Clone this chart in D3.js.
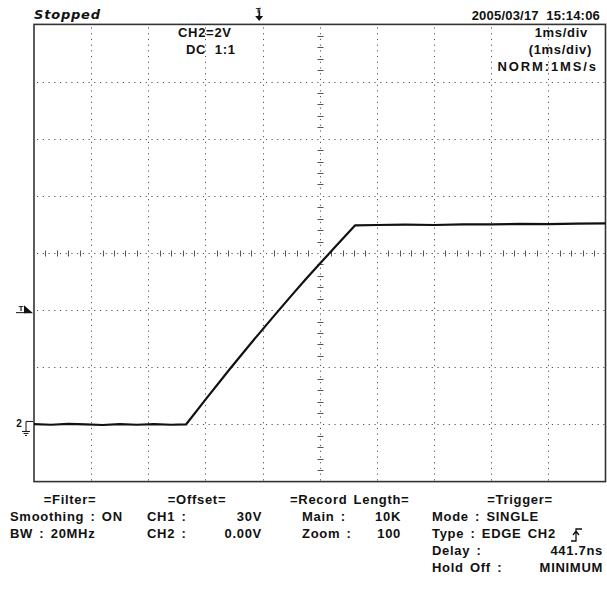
<!DOCTYPE html>
<html>
<head>
  <meta charset="utf-8">
  <style>
    body { margin: 0; background: #fff; }
    svg text { font-family: "Liberation Sans", Arial, sans-serif; font-weight: bold; font-size: 13px;
               letter-spacing: 0.7px; word-spacing: 2px; white-space: pre; fill: #111; }
    .grid { stroke: #555; stroke-width: 1; stroke-dasharray: 1.2 4.52; fill: none; }
    .tick { stroke: #555; stroke-width: 1; }
    .trace { fill: none; stroke: #111; stroke-width: 2.2; stroke-linejoin: round; }
  </style>
  <script src="https://d3js.org/d3.v7.min.js"></script>
</head>
<body>
  <div id="scope"></div>
  <script>
    // time in ms (1 ms/div, trigger at centre), CH2 in volts (2 V/div)
    var traceTime = [-5, -4.7, -4.4, -4.1, -3.8, -3.5, -3.2, -2.9, -2.6, -2.34,
                     -2.0, -1.57, -1.2, -0.8, -0.5, -0.25, 0, 0.3, 0.62,
                     1.0, 1.5, 2.0, 2.5, 3.0, 3.5, 4.0, 4.5, 5.0];
    var traceVolts = [0.01, -0.01, 0.02, 0.0, -0.02, 0.01, -0.01, 0.01, -0.01, 0.0,
                      0.87, 1.95, 2.85, 3.8, 4.5, 5.07, 5.62, 6.28, 6.97,
                      6.98, 6.99, 6.98, 7.0, 7.0, 7.02, 7.01, 7.03, 7.04];
    var timeDivs = [-5, -4, -3, -2, -1, 0, 1, 2, 3, 4, 5];
    var voltDivs = [-2, 0, 2, 4, 6, 8, 10, 12, 14];
    var centreTime = 0, centreVolt = 6;
    var triggerTime = -1.06, triggerVolt = 4, groundVolt = 0;

    var infoTop = ["CH2=2V", "DC  1:1"];
    var infoRight = ["1ms/div", "(1ms/div)", "NORM:1MS/s"];
    var colFilter = ["=Filter=", "Smoothing : ON", "BW : 20MHz"];
    var colOffset = ["=Offset=", "CH1 :", "CH2 :"], offsetVals = ["30V", "0.00V"];
    var colRecord = ["=Record Length=", "Main :", "Zoom :"], recordVals = ["10K", "100"];
    var colTrigger = ["=Trigger=", "Mode : SINGLE", "Type : EDGE CH2", "Delay :", "Hold Off :"];
    var triggerVals = ["441.7ns", "MINIMUM"];

    var W = 607, H = 590;
    var svg = d3.select("#scope").append("svg").attr("width", W).attr("height", H);

    var x = d3.scaleLinear().domain([-5, 5]).range([34, 605.5]);
    var y = d3.scaleLinear().domain([-2, 14]).range([481.6, 24.4]);

    // dotted grid
    svg.selectAll(".vgrid").data(timeDivs.slice(1, -1)).enter().append("line")
      .attr("class", "grid")
      .attr("x1", function (d) { return Math.round(x(d)) + 0.5; })
      .attr("x2", function (d) { return Math.round(x(d)) + 0.5; })
      .attr("y1", y(14) + 3).attr("y2", y(-2));
    svg.selectAll(".hgrid").data(voltDivs.slice(1, -1)).enter().append("line")
      .attr("class", "grid")
      .attr("y1", function (d) { return Math.round(y(d)) + 0.5; })
      .attr("y2", function (d) { return Math.round(y(d)) + 0.5; })
      .attr("x1", x(-5) + 3).attr("x2", x(5));

    // minor ticks on centre axes (5 per division)
    var minorT = d3.range(-25, 26).map(function (i) { return i / 5; }).filter(function (d) { return d % 1 !== 0; });
    var minorV = d3.range(-40, 41).map(function (i) { return i * 0.4; }).filter(function (d) { return d > -2 && d < 14 && Math.abs(d % 2) > 0.01 && Math.abs(d % 2) < 1.99; });
    var cy = Math.round(y(centreVolt)) + 0.5, cx = Math.round(x(centreTime)) + 0.5;
    svg.selectAll(".tx").data(minorT).enter().append("line").attr("class", "tick")
      .attr("x1", function (d) { return Math.round(x(d)) + 0.5; })
      .attr("x2", function (d) { return Math.round(x(d)) + 0.5; })
      .attr("y1", cy - 3).attr("y2", cy + 3);
    svg.selectAll(".ty").data(minorV).enter().append("line").attr("class", "tick")
      .attr("y1", function (d) { return Math.round(y(d)) + 0.5; })
      .attr("y2", function (d) { return Math.round(y(d)) + 0.5; })
      .attr("x1", cx - 3).attr("x2", cx + 3);

    // frame
    svg.append("rect")
      .attr("x", x(-5)).attr("y", y(14))
      .attr("width", x(5) - x(-5)).attr("height", y(-2) - y(14))
      .attr("fill", "none").attr("stroke", "#333").attr("stroke-width", 1.6);

    // trace
    var pts = traceTime.map(function (t, i) { return [t, traceVolts[i]]; });
    svg.append("path").datum(pts).attr("class", "trace")
      .attr("d", d3.line().x(function (d) { return x(d[0]); }).y(function (d) { return y(d[1]); }));

    // header
    svg.append("text").attr("x", 34).attr("y", 19)
      .style("font-family", "DejaVu Sans").style("font-style", "italic").style("font-size", "13px")
      .style("letter-spacing", "0.8px")
      .text("Stopped");
    svg.append("text").attr("x", 600).attr("y", 20).attr("text-anchor", "end")
      .style("letter-spacing", "0.2px").style("word-spacing", "0px")
      .text("2005/03/17  15:14:06");
    svg.selectAll(".it").data(infoTop).enter().append("text")
      .attr("x", function (d, i) { return [178, 186][i]; })
      .attr("y", function (d, i) { return 37 + i * 17; })
      .style("word-spacing", "0px")
      .text(function (d) { return d; });
    svg.selectAll(".ir").data(infoRight).enter().append("text")
      .attr("x", function (d, i) { return [588, 592, 598][i]; })
      .attr("y", function (d, i) { return 37 + i * 17; })
      .style("letter-spacing", function (d, i) { return i === 2 ? "1.9px" : "0.7px"; })
      .attr("text-anchor", "end").text(function (d) { return d; });

    // trigger marker at top
    var tx = x(triggerTime);
    svg.append("text").attr("x", tx - 1).attr("y", 13).attr("text-anchor", "middle")
      .style("font-size", "8px").style("letter-spacing", "0px").text("T");
    svg.append("path").attr("d", "M" + (tx + 1) + ",6 V16 h3 l-4,5 l-4,-5 h3").attr("fill", "#111");

    // left markers
    var ty = y(triggerVolt);
    svg.append("text").attr("x", 21).attr("y", ty + 1).attr("text-anchor", "middle")
      .style("font-size", "8px").style("letter-spacing", "0px").text("T");
    svg.append("line").attr("x1", 16).attr("x2", 26).attr("y1", ty + 2.5).attr("y2", ty + 2.5).attr("stroke", "#111").attr("stroke-width", 1);
    svg.append("path").attr("d", "M24," + (ty + 3) + " L33," + (ty + 3) + " L24," + (ty - 5) + "Z").attr("fill", "#111");
    var gy = y(groundVolt);
    svg.append("text").attr("x", 19).attr("y", gy + 3).attr("text-anchor", "middle")
      .style("font-size", "10px").style("letter-spacing", "0px").text("2");
    svg.append("path").attr("d", "M33," + (gy - 3) + " H26 V" + (gy + 7) + " M22," + (gy + 7) + " H30 M23.5," + (gy + 9) + " H28.5 M25," + (gy + 11) + " H27")
      .attr("fill", "none").attr("stroke", "#111").attr("stroke-width", 1);

    // bottom info columns
    var rowY = [504, 521, 538, 555, 572];
    svg.selectAll(".cf").data(colFilter).enter().append("text")
      .attr("x", function (d, i) { return i === 0 ? 70 : 10; })
      .attr("text-anchor", function (d, i) { return i === 0 ? "middle" : "start"; })
      .attr("y", function (d, i) { return rowY[i]; }).text(function (d) { return d; });
    svg.selectAll(".co").data(colOffset).enter().append("text")
      .attr("x", function (d, i) { return i === 0 ? 197 : 147; })
      .attr("text-anchor", function (d, i) { return i === 0 ? "middle" : "start"; })
      .attr("y", function (d, i) { return rowY[i]; }).text(function (d) { return d; });
    svg.selectAll(".cov").data(offsetVals).enter().append("text")
      .attr("x", 262).attr("text-anchor", "end")
      .attr("y", function (d, i) { return rowY[i + 1]; }).text(function (d) { return d; });
    svg.selectAll(".cr").data(colRecord).enter().append("text")
      .attr("x", function (d, i) { return i === 0 ? 290 : 302; })
      .attr("y", function (d, i) { return rowY[i]; }).text(function (d) { return d; });
    svg.selectAll(".crv").data(recordVals).enter().append("text")
      .attr("x", 401).attr("text-anchor", "end")
      .attr("y", function (d, i) { return rowY[i + 1]; }).text(function (d) { return d; });
    svg.selectAll(".ct").data(colTrigger).enter().append("text")
      .attr("x", function (d, i) { return i === 0 ? 520 : 432; })
      .attr("text-anchor", function (d, i) { return i === 0 ? "middle" : "start"; })
      .attr("y", function (d, i) { return rowY[i]; }).text(function (d) { return d; });
    svg.selectAll(".ctv").data(triggerVals).enter().append("text")
      .attr("x", 603).attr("text-anchor", "end")
      .attr("y", function (d, i) { return rowY[i + 3]; }).text(function (d) { return d; });
    // rising-edge symbol
    svg.append("path").attr("d", "M571,541 H576 V529 H582 M573,535 L576,531 L579,535")
      .attr("fill", "none").attr("stroke", "#111").attr("stroke-width", 1.3);
  </script>
</body>
</html>
